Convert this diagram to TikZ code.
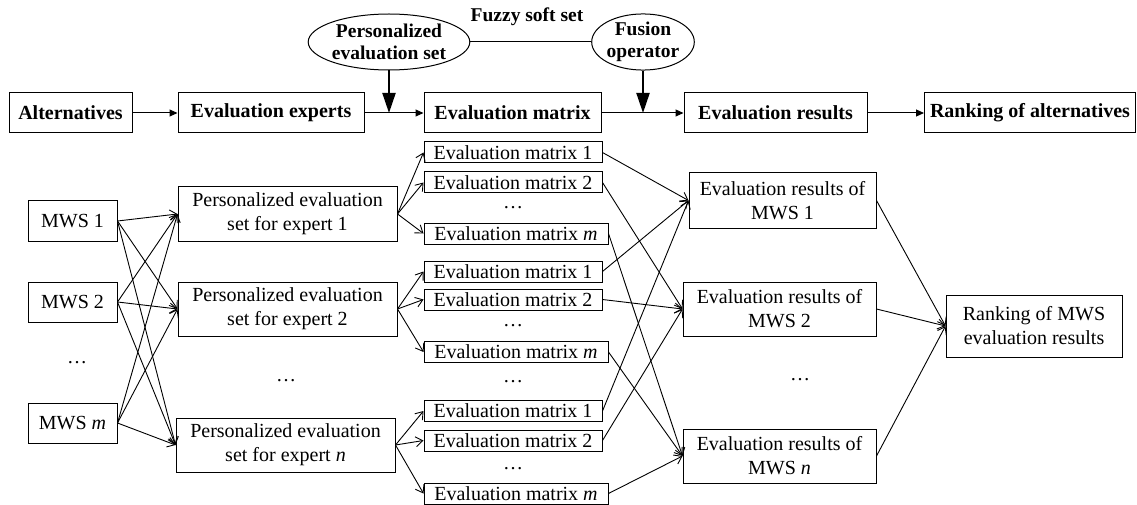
\documentclass[tikz,border=0pt]{standalone}
\usepackage{fontspec}
\setmainfont{Liberation Serif}
\usetikzlibrary{arrows.meta,shapes.geometric}
\begin{document}
\begin{tikzpicture}[x=1pt,y=-1pt,
  box/.style={draw,line width=1pt,inner sep=0pt,align=center,font=\fontsize{20}{24}\selectfont},
  topbox/.style={box,minimum height=40pt,font=\fontsize{20}{24}\selectfont\bfseries},
  embox/.style={box,minimum height=21pt},
  ebox/.style={box,minimum height=54pt},
  oval/.style={draw,line width=1pt,ellipse,inner sep=0pt,minimum height=56pt,align=center,font=\fontsize{19.5}{22}\selectfont\bfseries},
  plain/.style={inner sep=0pt,font=\fontsize{20}{24}\selectfont},
  dots/.style={inner sep=0pt,text height=3pt,text depth=0pt,font=\fontsize{20}{24}\selectfont},
  arr/.style={-{Straight Barb[length=7pt,width=10pt]},line width=0.9pt},
  toparr/.style={-{Triangle[length=8pt,width=7pt]},line width=1pt},
  bigarr/.style={-{Triangle[length=20pt,width=13pt]},line width=2pt}
]
\useasboundingbox (0,0) rectangle (1137,505);
% top row
\node[topbox,minimum width=123pt] (alt) at (70.5,113) {Alternatives};
\node[topbox,minimum width=186pt] (exp) at (271,113) {Evaluation experts};
\node[topbox,minimum width=177pt] (mat) at (512.5,113) {Evaluation matrix};
\node[topbox,minimum width=183pt] (res) at (775.5,113) {Evaluation results};
\node[topbox,minimum width=211pt] (rank) at (1030,113) {Ranking of alternatives};
\node[oval,minimum width=140pt] (pe) at (389,42) {Personalized\\evaluation set};
\node[oval,minimum width=93pt] (fo) at (643,42) {Fusion\\operator};
\node[plain,font=\fontsize{19.5}{22}\selectfont\bfseries] (fss) at (527,17) {Fuzzy soft set};
\draw[line width=1pt] (pe.east) -- (fo.west);
\draw[toparr] (alt.east) -- (exp.west);
\draw[toparr] (exp.east) -- (mat.west);
\draw[toparr] (mat.east) -- (res.west);
\draw[toparr] (res.east) -- (rank.west);
\coordinate (j1) at (pe.south |- exp.east);
\coordinate (j2) at (fo.south |- mat.east);
\draw[bigarr] (pe.south) -- (j1);
\draw[bigarr] (fo.south) -- (j2);
% MWS
\node[box,minimum width=89pt,minimum height=40pt] (mws1) at (72.5,221) {MWS 1};
\node[box,minimum width=89pt,minimum height=40pt] (mws2) at (72.5,302) {MWS 2};
\node[dots] (d1) at (77,362) {\dots};
\node[box,minimum width=89pt,minimum height=40pt] (mwsm) at (72.5,423) {MWS \textit{m}};
% experts
\node[ebox,minimum width=219pt] (ex1) at (287.5,214) {Personalized evaluation\\set for expert 1};
\node[ebox,minimum width=219pt] (ex2) at (287.5,309) {Personalized evaluation\\set for expert 2};
\node[dots] (d2) at (286,380) {\dots};
\node[ebox,minimum width=219pt] (exn) at (285.5,445) {Personalized evaluation\\set for expert \textit{n}};
% evaluation matrices
\node[embox,minimum width=178pt] (g1-a) at (513,152.5) {Evaluation matrix 1};
\node[embox,minimum width=178pt] (g1-b) at (513,182.5) {Evaluation matrix 2};
\node[dots] (g1-d) at (513,207) {\dots};
\node[embox,minimum width=184pt] (g1-m) at (516,233.5) {Evaluation matrix \textit{m}};
\node[embox,minimum width=178pt] (g2-a) at (513,271.5) {Evaluation matrix 1};
\node[embox,minimum width=178pt] (g2-b) at (513,299.5) {Evaluation matrix 2};
\node[dots] (g2-d) at (513,325) {\dots};
\node[embox,minimum width=184pt] (g2-m) at (516,352) {Evaluation matrix \textit{m}};
\node[dots] (d3) at (513,381) {\dots};
\node[embox,minimum width=178pt] (g3-a) at (513,411) {Evaluation matrix 1};
\node[embox,minimum width=178pt] (g3-b) at (513,440.5) {Evaluation matrix 2};
\node[dots] (g3-d) at (513,468) {\dots};
\node[embox,minimum width=184pt] (g3-m) at (516,493.5) {Evaluation matrix \textit{m}};
% evaluation results
\node[box,minimum width=187pt,minimum height=55pt] (er1) at (782.5,200.5) {Evaluation results of\\MWS 1};
\node[ebox,minimum width=193pt] (er2) at (779.5,309) {Evaluation results of\\MWS 2};
\node[dots] (d4) at (800,379) {\dots};
\node[ebox,minimum width=193pt] (ern) at (779.5,456) {Evaluation results of\\MWS \textit{n}};
\node[box,minimum width=176pt,minimum height=62pt] (rmws) at (1034,326) {Ranking of MWS\\evaluation results};
% connectors
\foreach \m in {mws1,mws2,mwsm}
  \foreach \e in {ex1,ex2,exn}
    \draw[arr] (\m.east) -- (\e.west);
\foreach \e/\g in {ex1/g1,ex2/g2,exn/g3}
  \foreach \k in {a,b,m}
    \draw[arr] (\e.east) -- (\g-\k.west);
\foreach \g in {g1,g2,g3} {
  \draw[arr] (\g-a.east) -- (er1.west);
  \draw[arr] (\g-b.east) -- (er2.west);
  \draw[arr] (\g-m.east) -- (ern.west);
}
\foreach \r in {er1,er2,ern}
  \draw[arr] (\r.east) -- (rmws.west);
\end{tikzpicture}
\end{document}
